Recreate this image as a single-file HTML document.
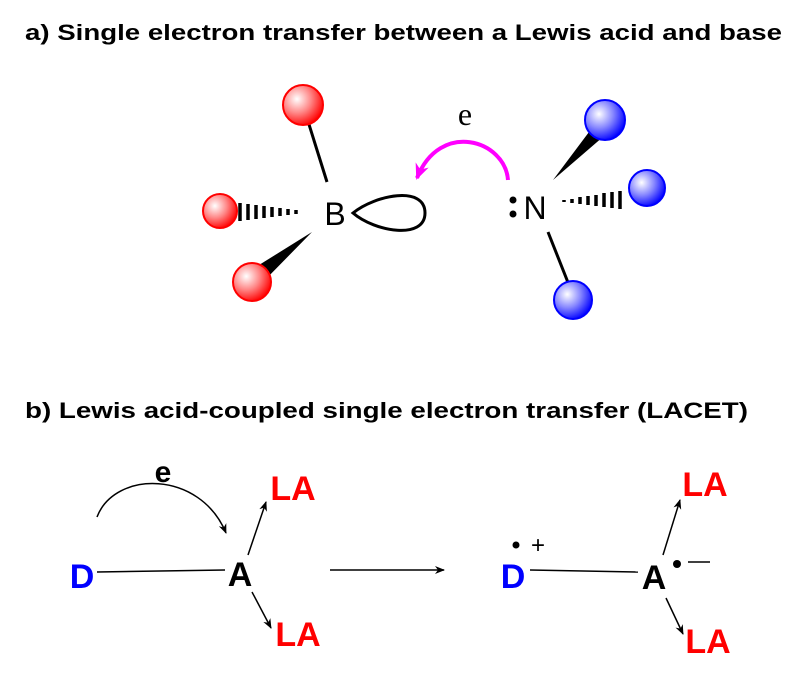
<!DOCTYPE html>
<html><head><style>
body{margin:0;background:#fff;width:807px;height:675px;overflow:hidden}
</style></head><body>
<svg width="807" height="675" xmlns="http://www.w3.org/2000/svg" font-family="Liberation Sans, Arial, sans-serif">
<defs>
<radialGradient id="rg" cx="0.35" cy="0.35" r="0.7"><stop offset="0" stop-color="#fff"/><stop offset="0.5" stop-color="#f88"/><stop offset="1" stop-color="#f00"/></radialGradient>
<radialGradient id="bg" cx="0.35" cy="0.35" r="0.7"><stop offset="0" stop-color="#fff"/><stop offset="0.5" stop-color="#88f"/><stop offset="1" stop-color="#00f"/></radialGradient>
<marker id="ah" markerWidth="10" markerHeight="8" refX="9" refY="4" orient="auto" markerUnits="userSpaceOnUse"><path d="M0,0 L10,4 L0,8 L3,4z" fill="#000"/></marker>
<marker id="mh" markerWidth="16" markerHeight="14" refX="14" refY="7" orient="auto" markerUnits="userSpaceOnUse"><path d="M0,0 L16,7 L0,14 L5,7z" fill="#f0f"/></marker>
</defs>
<text x="25" y="40" font-size="22" font-weight="bold" textLength="757" lengthAdjust="spacingAndGlyphs">a) Single electron transfer between a Lewis acid and base</text>
<text x="25" y="418" font-size="22" font-weight="bold" textLength="723" lengthAdjust="spacingAndGlyphs">b) Lewis acid-coupled single electron transfer (LACET)</text>

<line x1="327" y1="182" x2="307" y2="118" stroke="#000" stroke-width="3"/>
<g stroke="#000" stroke-width="3.5">
<line x1="240" y1="203" x2="240" y2="221"/><line x1="248" y1="204" x2="248" y2="220"/><line x1="256" y1="205" x2="256" y2="219"/><line x1="264" y1="206" x2="264" y2="218"/><line x1="272" y1="207" x2="272" y2="217"/><line x1="280" y1="208" x2="280" y2="216"/><line x1="288" y1="209" x2="288" y2="215"/><line x1="296" y1="210" x2="296" y2="214"/>
</g>
<polygon points="312,232 251,270 262,283" fill="#000"/>
<circle cx="303" cy="105" r="20" fill="url(#rg)" stroke="#f00" stroke-width="2"/>
<circle cx="220" cy="211" r="17" fill="url(#rg)" stroke="#f00" stroke-width="2"/>
<circle cx="252" cy="282" r="19" fill="url(#rg)" stroke="#f00" stroke-width="2"/>
<text x="335" y="225" font-size="32" text-anchor="middle">B</text>
<path d="M353,213 C375,195 425,185 425,213 C425,240 375,232 353,213z" fill="none" stroke="#000" stroke-width="3"/>
<path d="M508,180 C505,140 440,120 417,178" fill="none" stroke="#f0f" stroke-width="4" marker-end="url(#mh)"/>
<text x="465" y="125" font-size="32" text-anchor="middle" font-family="Liberation Serif, serif">e</text>
<circle cx="513" cy="200" r="3.5" fill="#000"/><circle cx="513" cy="214" r="3.5" fill="#000"/>
<text x="535" y="219" font-size="32" text-anchor="middle">N</text>
<polygon points="553,180 601,116 611,130" fill="#000"/>
<g stroke="#000" stroke-width="3.5">
<line x1="564" y1="200" x2="564" y2="202"/><line x1="572" y1="199" x2="572" y2="203"/><line x1="580" y1="197" x2="580" y2="204"/><line x1="588" y1="196" x2="588" y2="205"/><line x1="596" y1="195" x2="596" y2="206"/><line x1="604" y1="193" x2="604" y2="207"/><line x1="612" y1="192" x2="612" y2="208"/><line x1="620" y1="191" x2="620" y2="209"/>
</g>
<line x1="548" y1="232" x2="569" y2="285" stroke="#000" stroke-width="3"/>
<circle cx="605" cy="120" r="20" fill="url(#bg)" stroke="#00f" stroke-width="2"/>
<circle cx="647" cy="188" r="18" fill="url(#bg)" stroke="#00f" stroke-width="2"/>
<circle cx="573" cy="300" r="19" fill="url(#bg)" stroke="#00f" stroke-width="2"/>

<g font-weight="bold" font-size="34">
<text x="82" y="588" text-anchor="middle" fill="#00f">D</text>
<text x="240" y="586" text-anchor="middle">A</text>
<text x="293" y="500" text-anchor="middle" fill="#f00">LA</text>
<text x="298" y="646" text-anchor="middle" fill="#f00">LA</text>
<text x="513" y="588" text-anchor="middle" fill="#00f">D</text>
<text x="654" y="589" text-anchor="middle">A</text>
<text x="705" y="496" text-anchor="middle" fill="#f00">LA</text>
<text x="708" y="653" text-anchor="middle" fill="#f00">LA</text>
<text x="163" y="482" text-anchor="middle" font-size="30">e</text>
</g>
<line x1="97" y1="572" x2="225" y2="570" stroke="#000" stroke-width="1.5"/>
<path d="M97,517 C115,470 200,470 226,533" fill="none" stroke="#000" stroke-width="1.5" marker-end="url(#ah)"/>
<line x1="248" y1="555" x2="266" y2="502" stroke="#000" stroke-width="1.5" marker-end="url(#ah)"/>
<line x1="252" y1="592" x2="271" y2="628" stroke="#000" stroke-width="1.5" marker-end="url(#ah)"/>
<line x1="330" y1="570" x2="444" y2="570" stroke="#000" stroke-width="1.5" marker-end="url(#ah)"/>
<line x1="530" y1="570" x2="638" y2="572" stroke="#000" stroke-width="1.5"/>
<circle cx="516" cy="545" r="3.5" fill="#000"/>
<text x="538" y="553" font-size="24" text-anchor="middle">+</text>
<circle cx="677" cy="564" r="4" fill="#000"/>
<line x1="688" y1="562" x2="710" y2="562" stroke="#000" stroke-width="1.5"/>
<line x1="663" y1="555" x2="680" y2="500" stroke="#000" stroke-width="1.5" marker-end="url(#ah)"/>
<line x1="666" y1="598" x2="683" y2="634" stroke="#000" stroke-width="1.5" marker-end="url(#ah)"/>
</svg>
</body></html>
